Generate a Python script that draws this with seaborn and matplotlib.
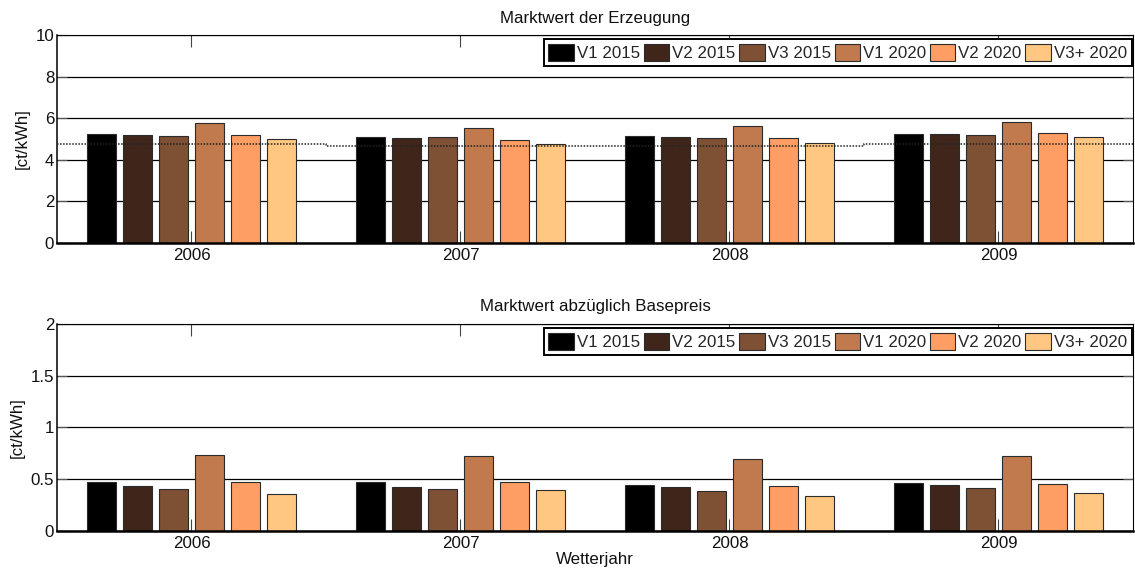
import numpy as np
import pandas as pd
import matplotlib
matplotlib.use("Agg")
import matplotlib.pyplot as plt
from matplotlib.patches import Patch
import seaborn as sns

# Weather years and scenario series
years = ["2006", "2007", "2008", "2009"]
series = ["V1 2015", "V2 2015", "V3 2015", "V1 2020", "V2 2020", "V3+ 2020"]
colors = ["#000000", "#40261A", "#7E5034", "#C07A4E", "#FF9E64", "#FFC781"]

# Market value of generation [ct/kWh], one list per series (over years)
mv_v1_2015 = [5.22, 5.11, 5.13, 5.22]
mv_v2_2015 = [5.19, 5.06, 5.09, 5.22]
mv_v3_2015 = [5.16, 5.09, 5.06, 5.19]
mv_v1_2020 = [5.78, 5.54, 5.61, 5.83]
mv_v2_2020 = [5.19, 4.95, 5.03, 5.29]
mv_v3p_2020 = [4.98, 4.77, 4.79, 5.08]

# Base price per weather year [ct/kWh]
base_price = [4.77, 4.66, 4.66, 4.77]

# Market value minus base price [ct/kWh]
rel_v1_2015 = [0.473, 0.473, 0.447, 0.467]
rel_v2_2015 = [0.432, 0.422, 0.425, 0.441]
rel_v3_2015 = [0.406, 0.406, 0.383, 0.415]
rel_v1_2020 = [0.737, 0.725, 0.698, 0.728]
rel_v2_2020 = [0.470, 0.476, 0.438, 0.451]
rel_v3p_2020 = [0.355, 0.393, 0.335, 0.364]

top_values = [mv_v1_2015, mv_v2_2015, mv_v3_2015, mv_v1_2020, mv_v2_2020, mv_v3p_2020]
bot_values = [rel_v1_2015, rel_v2_2015, rel_v3_2015, rel_v1_2020, rel_v2_2020, rel_v3p_2020]

FS = 12.2


def long_table(values):
    rows = []
    for name, vals in zip(series, values):
        for yr, v in zip(years, vals):
            rows.append({"year": yr, "series": name, "value": v})
    return pd.DataFrame(rows)


sns.set_style("white")
plt.rcParams["font.family"] = ["Liberation Sans", "DejaVu Sans"]
plt.rcParams["font.size"] = FS

fig = plt.figure(figsize=(11.35, 5.72), dpi=100)
ax_top = fig.add_axes([0.0502, 0.5752, 0.9480, 0.3636])
ax_bot = fig.add_axes([0.0502, 0.0717, 0.9480, 0.3619])


def draw_panel(ax, values, ylim, yticks, title, title_pad):
    df = long_table(values)
    sns.barplot(data=df, x="year", y="value", hue="series", hue_order=series,
                order=years, palette=colors, saturation=1, width=0.8, gap=0.19,
                edgecolor="#2b2b2b", linewidth=0.8, errorbar=None,
                legend=False, ax=ax, zorder=2)
    ax.set_xlim(-0.5, 3.5)
    ax.set_ylim(*ylim)
    ax.set_yticks(yticks)
    ax.set_yticklabels([f"{t:g}" for t in yticks])
    ax.yaxis.grid(True, color="black", linewidth=0.9)
    ax.xaxis.grid(False)
    ax.set_axisbelow(True)
    for side in ["top", "right", "left"]:
        ax.spines[side].set_color("black")
        ax.spines[side].set_linewidth(0.8)
    ax.spines["left"].set_linewidth(1.1)
    ax.spines["bottom"].set_color("black")
    ax.spines["bottom"].set_linewidth(1.8)
    ax.tick_params(axis="x", which="major", direction="in", length=8.5,
                   width=0.8, color="#444444", top=True, bottom=True,
                   pad=3.5, labelsize=FS, labelcolor="#111111")
    ax.tick_params(axis="y", which="major", direction="in", length=7,
                   width=0.8, color="#555555", left=True, right=True,
                   pad=2, labelsize=FS, labelcolor="#111111")
    ax.set_ylabel("[ct/kWh]", fontsize=FS, labelpad=4, color="#111111")
    ax.set_xlabel("")
    ax.set_title(title, fontsize=FS, y=1.0, pad=title_pad, color="#111111")

    handles = [Patch(facecolor=c, edgecolor="#2b2b2b", linewidth=0.8) for c in colors]
    leg = ax.legend(handles, series, loc="upper right", ncol=6,
                    bbox_to_anchor=(1 - 1.3 / 1076, 1 - 4.3 / 207),
                    borderaxespad=0, frameon=True, fancybox=False,
                    framealpha=1, edgecolor="black", fontsize=FS,
                    handlelength=1.5, handleheight=1.15, handletextpad=0.18,
                    columnspacing=0.22, borderpad=0.28)
    leg.get_frame().set_linewidth(1.4)
    leg.set_zorder(5)


draw_panel(ax_top, top_values, (0, 10), [0, 2, 4, 6, 8, 10],
           "Marktwert der Erzeugung", 8.6)
# Base price as a dotted step line across each weather year
ax_top.stairs(base_price, edges=np.arange(len(years) + 1) - 0.5,
              color="#222222", linestyle=(0, (1, 1)), linewidth=1.1, zorder=3,
              baseline=None)

draw_panel(ax_bot, bot_values, (0, 2), [0, 0.5, 1, 1.5, 2],
           "Marktwert abzüglich Basepreis", 9.7)
ax_bot.set_xlabel("Wetterjahr", fontsize=FS, labelpad=1, color="#111111")

fig.savefig("out.png", dpi=100, facecolor="white")
